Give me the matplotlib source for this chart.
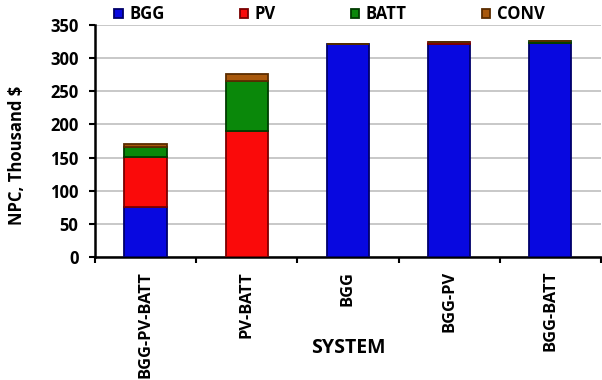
import numpy as np
import matplotlib.pyplot as plt

plt.rcParams['font.family'] = ['Open Sans', 'DejaVu Sans']
plt.rcParams['font.weight'] = 'bold'

systems = ['BGG-PV-BATT', 'PV-BATT', 'BGG', 'BGG-PV', 'BGG-BATT']
bgg = [75, 0, 322, 322, 323]
pv = [76, 190, 0, 3, 0]
batt = [15, 75, 0, 0, 3]
conv = [4, 11, 0, 0, 0.5]

# name, values, face colour, edge colour
series = [('BGG', bgg, '#0808E0', '#00006A'),
          ('PV', pv, '#FA0A0A', '#7A0000'),
          ('BATT', batt, '#0A880A', '#003C00'),
          ('CONV', conv, '#A8580C', '#5A2C00')]

fig = plt.figure(figsize=(6.02, 3.8), dpi=100)
ax = fig.add_axes([0.158, 0.324, 0.84, 0.61])

x = np.arange(len(systems))
bottom = np.zeros(len(systems))
for name, vals, col, edge in series:
    vals = np.array(vals, dtype=float)
    ax.bar(x, vals, 0.42, bottom=bottom, color=col, edgecolor=edge,
           linewidth=1.3, label=name, zorder=3)
    bottom += vals

ax.set_ylim(0, 350)
ax.set_xlim(-0.5, len(systems) - 0.5)
ax.set_yticks(np.arange(0, 351, 50))
ax.yaxis.grid(True, color='#BFBFBF', linewidth=1.2, zorder=0)
ax.set_axisbelow(True)

ax.set_xticks(x)
ax.set_xticklabels(systems, rotation=90, fontsize=11.8, fontweight='bold')
ax.tick_params(axis='x', which='major', length=0, pad=10)
ax.set_xticks(np.arange(-0.5, len(systems), 1), minor=True)
ax.tick_params(axis='x', which='minor', length=4, width=1.5, direction='out')
ax.tick_params(axis='y', length=4, width=1.5, labelsize=12, pad=8)
for lbl in ax.get_yticklabels():
    lbl.set_fontweight('bold')

for s in ['top', 'right']:
    ax.spines[s].set_visible(False)
ax.spines['left'].set_linewidth(1.8)
ax.spines['bottom'].set_linewidth(1.8)

ax.set_ylabel('NPC, Thousand $', fontsize=12, fontweight='bold')
ax.yaxis.set_label_coords(-0.137, 0.44)
ax.set_xlabel('SYSTEM', fontsize=14, fontweight='bold')
ax.xaxis.set_label_coords(0.5, -0.395)
ax.xaxis.label.set_va('center')

fig.legend(loc='center left', bbox_to_anchor=(0.19, 0.962), ncol=4, frameon=False,
           fontsize=12, handlelength=0.5, handleheight=0.5, handletextpad=0.4,
           columnspacing=4.5, borderaxespad=0, borderpad=0)

fig.savefig('out.png', dpi=100)
